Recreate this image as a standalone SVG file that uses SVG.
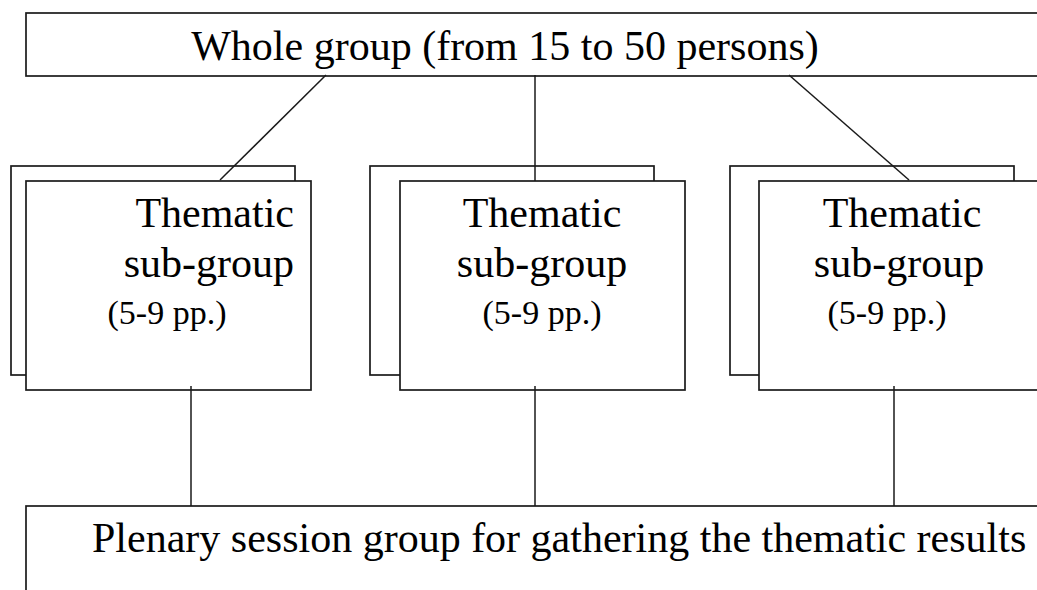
<svg xmlns="http://www.w3.org/2000/svg" width="1037" height="590" viewBox="0 0 1037 590">
<style>
.box{fill:#fff;stroke:#1a1a1a;stroke-width:1.7}
.ln{stroke:#1a1a1a;stroke-width:1.5;fill:none}
text{font-family:"Liberation Serif","Times New Roman",serif;fill:#000}
.big{font-size:42px}
.sm{font-size:34px}
</style>
<rect width="1037" height="590" fill="#fff"/>
<g id="whole">
<rect class="box" x="26" y="13" width="1030" height="63"/>
<text class="big" x="505" y="60" text-anchor="middle">Whole group (from 15 to 50 persons)</text>
</g>
<g id="sub1">
<rect class="box" x="11" y="166" width="284" height="209"/>
<rect class="box" x="26" y="181" width="285" height="209"/>
<text class="big" x="294" y="227" text-anchor="end">Thematic</text>
<text class="big" x="294" y="277" text-anchor="end">sub-group</text>
<text class="sm" x="167" y="324" text-anchor="middle">(5-9 pp.)</text>
</g>
<g id="sub2">
<rect class="box" x="370" y="166" width="284" height="209"/>
<rect class="box" x="400" y="181" width="285" height="209"/>
<text class="big" x="542" y="227" text-anchor="middle">Thematic</text>
<text class="big" x="542" y="277" text-anchor="middle">sub-group</text>
<text class="sm" x="542" y="324" text-anchor="middle">(5-9 pp.)</text>
</g>
<g id="sub3">
<rect class="box" x="730" y="166" width="284" height="209"/>
<rect class="box" x="759" y="181" width="285" height="209"/>
<text class="big" x="902" y="227" text-anchor="middle">Thematic</text>
<text class="big" x="899" y="277" text-anchor="middle">sub-group</text>
<text class="sm" x="887" y="324" text-anchor="middle">(5-9 pp.)</text>
</g>
<g id="plenary">
<rect class="box" x="26" y="506" width="1030" height="100"/>
<text class="big" x="92" y="552">Plenary session group for gathering the thematic results</text>
</g>
<g id="connectors">
<line class="ln" x1="326" y1="75" x2="220" y2="180"/>
<line class="ln" x1="535" y1="75" x2="535" y2="181"/>
<line class="ln" x1="789" y1="75" x2="909" y2="180"/>
<line class="ln" x1="191" y1="386" x2="191" y2="506"/>
<line class="ln" x1="535" y1="386" x2="535" y2="506"/>
<line class="ln" x1="894" y1="386" x2="894" y2="506"/>
</g>
</svg>
